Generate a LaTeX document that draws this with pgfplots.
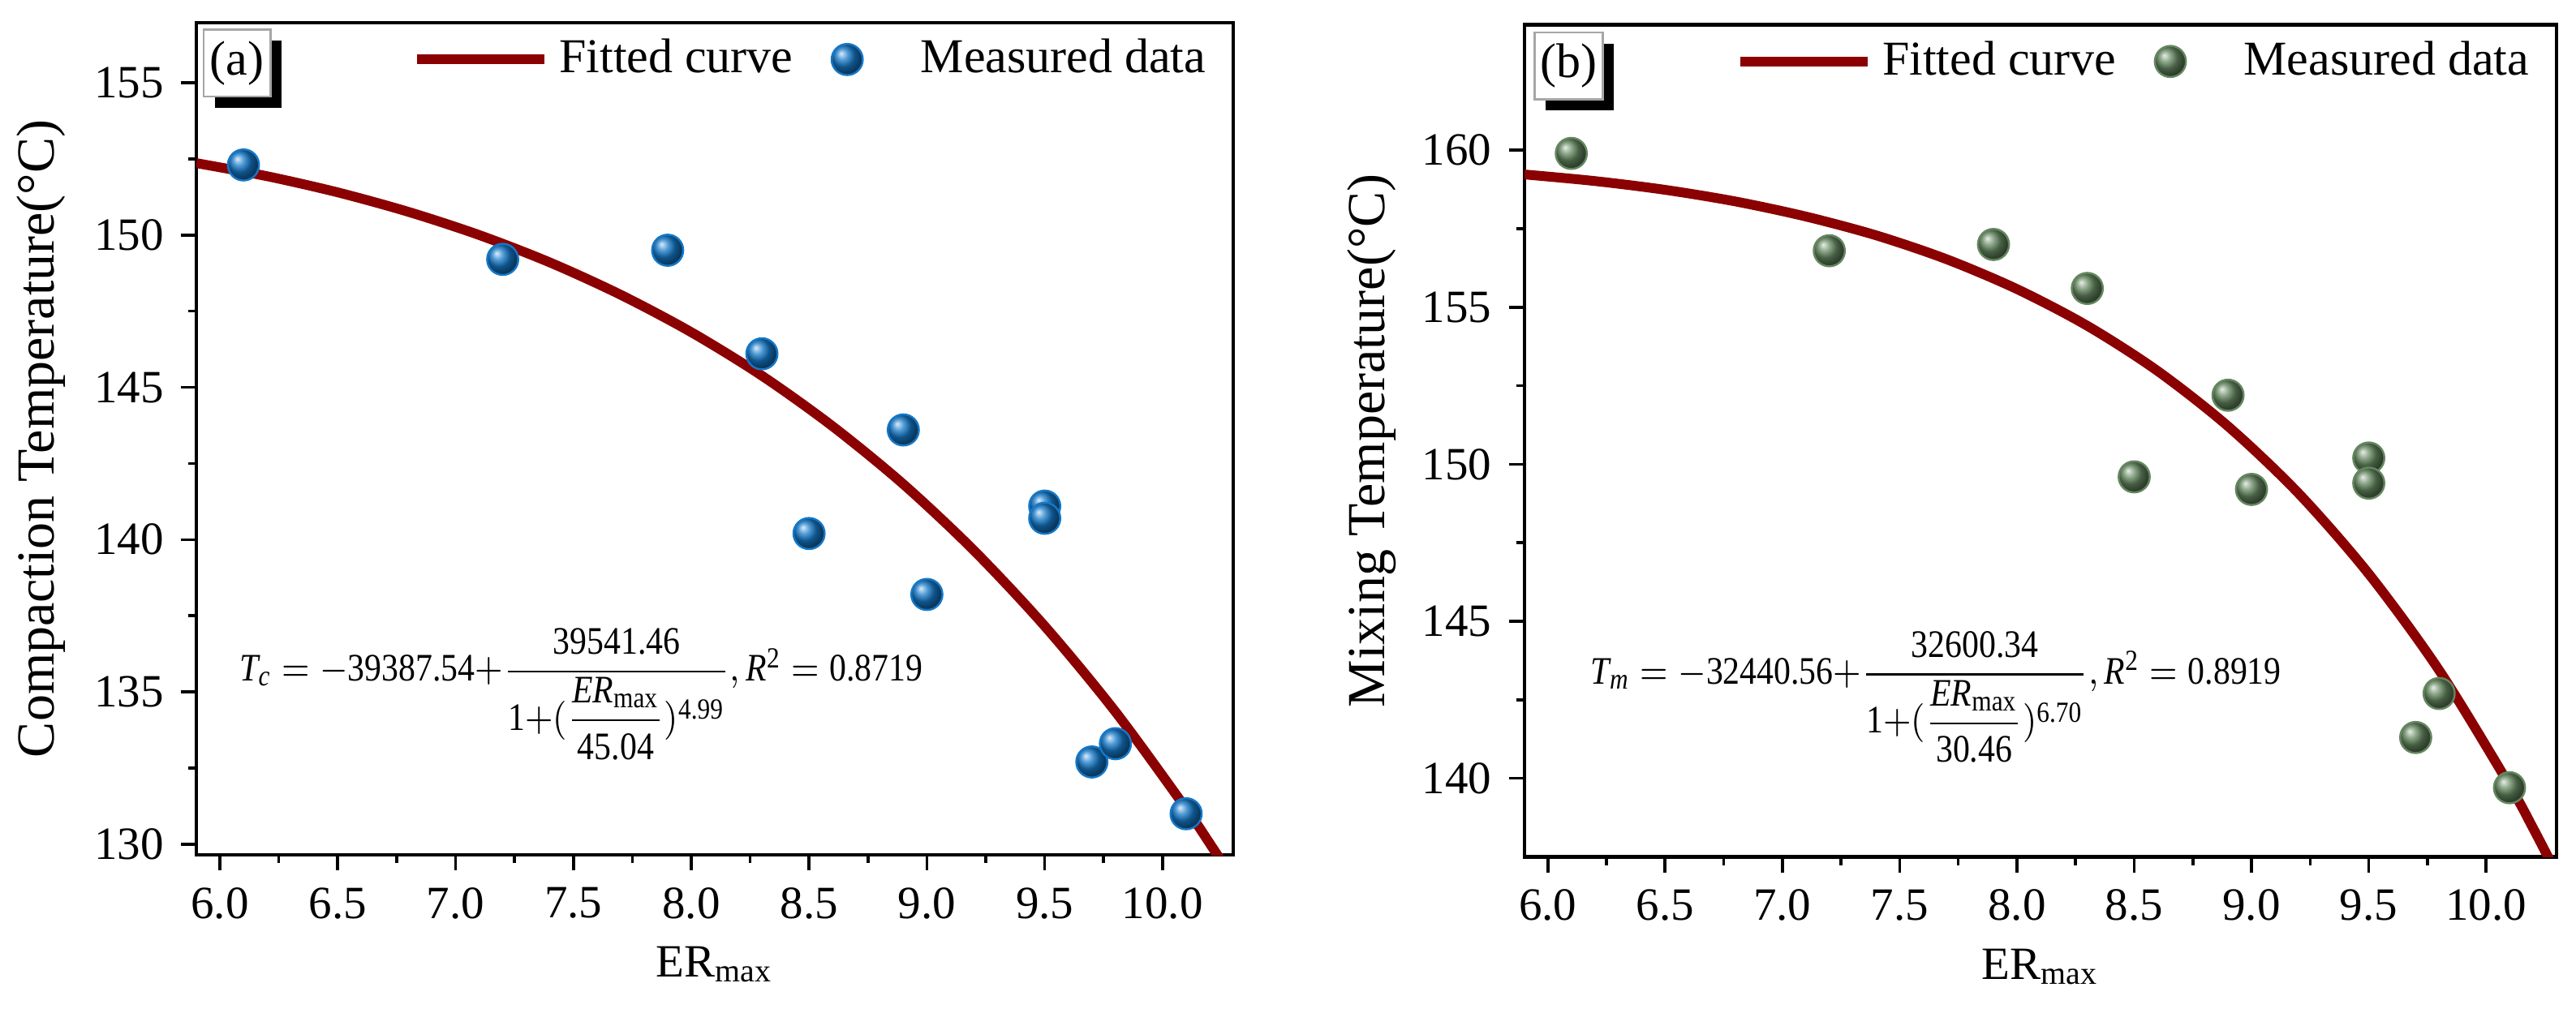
\documentclass[border=0pt]{standalone}
\usepackage{fontspec}
\setmainfont{Liberation Serif}
\usepackage{amsmath}
\usepackage{graphicx}
\usepackage{pgfplots}
\pgfplotsset{compat=1.18}
\usetikzlibrary{shadows}

\definecolor{fitred}{RGB}{139,0,0}
\definecolor{ballblue}{RGB}{20,120,200}
\definecolor{ballgreen}{RGB}{100,135,95}

\pgfplotsset{
  tempaxis/.style={
    scale only axis,
    width=213pt, height=171pt,
    xmin=5.9, xmax=10.3,
    xtick={6,6.5,7,7.5,8,8.5,9,9.5,10},
    minor x tick num=1, minor y tick num=1,
    tick align=outside, tick pos=left,
    major tick length=3.2pt, minor tick length=1.7pt,
    every tick/.style={black, line width=0.6pt},
    axis line style={line width=0.7pt},
    /pgf/number format/assume math mode=true,
    xticklabel style={/pgf/number format/.cd, fixed, fixed zerofill, precision=1},
    tick label style={font=\fontsize{9.5}{11}\selectfont},
    ylabel style={at={(axis description cs:-0.150,0.5)}, anchor=center,
      font=\fontsize{11}{13}\selectfont},
    xlabel style={at={(axis description cs:0.5,-0.147)}, anchor=base,
      font=\fontsize{9.5}{11}\selectfont},
    xlabel={ER\textsubscript{max}},
    legend style={draw=none, fill=none, at={(axis description cs:0.998,1.005)},
      anchor=north east, font=\fontsize{10}{12}\selectfont,
      /tikz/every even column/.append style={column sep=0pt}},
    legend columns=2, reverse legend,
  },
  fitline/.style={color=fitred, line width=2pt, smooth,
    legend image code/.code={\draw[##1] (0cm,0cm) -- (0.92cm,0cm);}},
  balls/.style={only marks, mark=ball, mark size=3.2pt, color=#1,
    mark options={ball color=#1},
    legend image code/.code={\path[draw=none] (0cm,0cm) (0.78cm,0cm);
      \draw[##1, only marks] plot coordinates {(0.32cm,0cm)};}},
}

\begin{document}
\begin{tikzpicture}
\useasboundingbox (-40.33pt,-32.33pt) rectangle (488.83pt,175.67pt);

% (a) compaction temperature
\begin{axis}[tempaxis,
  ymin=129.65, ymax=156.97,
  ytick={130,135,140,145,150,155},
  ylabel={Compaction Temperature(°C)},
  ]
  \addplot[balls=ballblue] coordinates {
    (6.1,152.3) (7.2,149.2) (7.9,149.5) (8.3,146.1) (8.5,140.2) (8.9,143.6)
    (9.0,138.2) (9.5,141.1) (9.5,140.7) (9.7,132.7) (9.8,133.3) (10.1,131.0)
  };
  \addlegendentry{Measured data}
  \addplot[fitline] coordinates {
    (5.9,152.36) (6.2,151.93) (6.5,151.40) (6.8,150.76) (7.1,150.00)
    (7.4,149.10) (7.7,148.04) (8.0,146.81) (8.3,145.38) (8.6,143.72)
    (8.9,141.82) (9.2,139.64) (9.5,137.16) (9.8,134.35) (10.1,131.17)
    (10.2,130.03) (10.3,128.84)
  };
  \addlegendentry{Fitted curve}
  \node[draw=gray!70, line width=0.4pt, fill=white, minimum width=13.8pt,
    minimum height=13.8pt, inner sep=0pt, anchor=north west,
    drop shadow={shadow xshift=2.3pt, shadow yshift=-2.3pt, fill=black, opacity=1},
    font=\fontsize{10}{12}\selectfont]
    at (axis description cs:0.006,0.993) {(a)};
  \node[anchor=base west, inner sep=0pt, font=\fontsize{8}{10}\selectfont] at (axis cs:6.08,135.35)
    {\scalebox{0.87}[1]{$\textit{T}_{\textit{c}} = -\text{39387.54}{+}\dfrac{\text{39541.46}}{\text{1}{+}(\dfrac{\textit{ER}_{\text{max}}}{\text{45.04}})^{\text{4.99}}}, \textit{R}^{\text{2}} = \text{0.8719}$}};
\end{axis}

% (b) mixing temperature
\begin{axis}[tempaxis, at={(272.8pt,-0.4pt)},
  width=212pt,
  ymin=137.5, ymax=164.0,
  ytick={140,145,150,155,160},
  ylabel={Mixing Temperature(°C)},
  ylabel style={at={(axis description cs:-0.148,0.5)}},
  ]
  \addplot[balls=ballgreen] coordinates {
    (6.1,159.9) (7.2,156.8) (7.9,157.0) (8.3,155.6) (8.5,149.6) (8.9,152.2)
    (9.0,149.2) (9.5,150.2) (9.5,149.4) (9.7,141.3) (9.8,142.7) (10.1,139.7)
  };
  \addlegendentry{Measured data}
  \addplot[fitline] coordinates {
    (5.9,159.23) (6.2,159.02) (6.5,158.74) (6.8,158.37) (7.1,157.89)
    (7.4,157.29) (7.7,156.53) (8.0,155.58) (8.3,154.41) (8.6,152.97)
    (8.9,151.21) (9.2,149.08) (9.5,146.51) (9.8,143.44) (10.1,139.78)
    (10.2,138.42) (10.3,136.98)
  };
  \addlegendentry{Fitted curve}
  \node[draw=gray!70, line width=0.4pt, fill=white, minimum width=14pt,
    minimum height=13.8pt, inner sep=0pt, anchor=north west,
    drop shadow={shadow xshift=2.3pt, shadow yshift=-2.3pt, fill=black, opacity=1},
    font=\fontsize{10}{12}\selectfont]
    at (axis description cs:0.009,0.992) {(b)};
  \node[anchor=base west, inner sep=0pt, font=\fontsize{8}{10}\selectfont] at (axis cs:6.18,143.0)
    {\scalebox{0.87}[1]{$\textit{T}_{\textit{m}} = -\text{32440.56}{+}\dfrac{\text{32600.34}}{\text{1}{+}(\dfrac{\textit{ER}_{\text{max}}}{\text{30.46}})^{\text{6.70}}}, \textit{R}^{\text{2}} = \text{0.8919}$}};
\end{axis}
\end{tikzpicture}
\end{document}
